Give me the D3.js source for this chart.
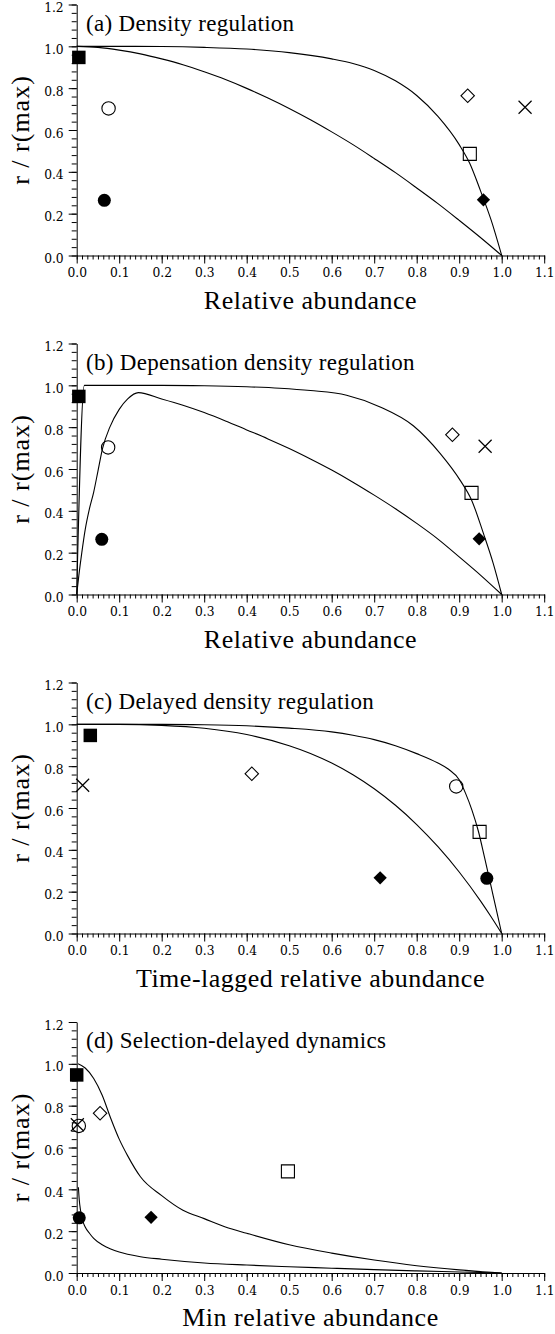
<!DOCTYPE html>
<html>
<head>
<meta charset="utf-8">
<script src="https://cdn.jsdelivr.net/npm/d3@7/dist/d3.min.js"></script>
<style>
  html, body { margin: 0; padding: 0; background: #fff; }
  svg { display: block; }
</style>
</head>
<body>
<svg id="chart" width="555" height="1334"></svg>
<script>
// ---------------- DATA ----------------
const panelTitles = ["(a) Density regulation", "(b) Depensation density regulation",
                     "(c) Delayed density regulation", "(d) Selection-delayed dynamics"];
const xAxisTitles = ["Relative abundance", "Relative abundance",
                     "Time-lagged relative abundance", "Min relative abundance"];
const yAxisTitle = "r / r(max)";
const xTicks = [0, 0.1, 0.2, 0.3, 0.4, 0.5, 0.6, 0.7, 0.8, 0.9, 1.0, 1.1];
const yTicks = [0, 0.2, 0.4, 0.6, 0.8, 1.0, 1.2];

// species markers (same r/r(max) in every panel)
const markerShapes = ["filledSquare", "openCircle", "filledCircle", "openDiamond", "openSquare", "filledDiamond", "cross"];
const rRatio = [0.947, 0.703, 0.264, 0.764, 0.486, 0.266, 0.709];
const xPanelA = [0.005, 0.075, 0.065, 0.920, 0.925, 0.957, 1.055];
const xPanelB = [0.005, 0.074, 0.059, 0.884, 0.929, 0.947, 0.961];
const xPanelC = [0.032, 0.893, 0.965, 0.412, 0.948, 0.714, 0.014];
const xPanelD = [0.000, 0.005, 0.006, 0.055, 0.497, 0.175, 0.0015];

// model curves [x, r/rmax]
const curveA1 = [[0,1],[0.1,1.0],[0.2,0.999],[0.3,0.995],[0.4,0.987],[0.5,0.97],[0.6,0.94],[0.65,0.918],[0.7,0.885],[0.75,0.835],[0.8,0.765],[0.85,0.665],[0.9,0.53],[0.925,0.44],[0.95,0.31],[0.975,0.17],[1,0]];
const curveA2 = [[0,1],[0.05,0.995],[0.1,0.982],[0.15,0.964],[0.2,0.94],[0.25,0.912],[0.3,0.878],[0.35,0.841],[0.4,0.799],[0.45,0.753],[0.5,0.703],[0.55,0.649],[0.6,0.591],[0.65,0.53],[0.7,0.464],[0.75,0.396],[0.8,0.323],[0.85,0.248],[0.9,0.168],[0.95,0.086],[1,0]];
const curveB1 = [[0,0],[0.018,1.0],[0.1,1.0],[0.2,1.0],[0.3,0.998],[0.4,0.993],[0.478,0.986],[0.55,0.975],[0.635,0.953],[0.714,0.897],[0.792,0.807],[0.855,0.675],[0.902,0.547],[0.929,0.452],[0.957,0.292],[0.98,0.149],[1,0]];
const curveB2 = [[0,0],[0.005,0.09],[0.012,0.2],[0.02,0.31],[0.03,0.41],[0.04,0.49],[0.05,0.59],[0.061,0.70],[0.078,0.80],[0.1,0.885],[0.12,0.935],[0.145,0.965],[0.2,0.935],[0.25,0.905],[0.3,0.87],[0.35,0.83],[0.4,0.787],[0.45,0.744],[0.5,0.698],[0.55,0.648],[0.6,0.595],[0.65,0.537],[0.7,0.475],[0.75,0.41],[0.8,0.34],[0.85,0.265],[0.9,0.18],[0.95,0.093],[1,0]];
const curveC1 = [[0,1],[0.2,1.0],[0.3,0.998],[0.4,0.993],[0.5,0.982],[0.6,0.964],[0.65,0.948],[0.7,0.927],[0.75,0.898],[0.8,0.86],[0.85,0.815],[0.875,0.785],[0.9,0.735],[0.915,0.67],[0.93,0.59],[0.945,0.49],[0.96,0.36],[0.98,0.18],[1,0]];
const curveC2 = [[0,1],[0.1,1.0],[0.2,0.995],[0.3,0.981],[0.4,0.951],[0.5,0.898],[0.55,0.861],[0.6,0.815],[0.65,0.759],[0.7,0.692],[0.75,0.613],[0.8,0.521],[0.85,0.415],[0.9,0.294],[0.95,0.156],[0.975,0.08],[1,0]];
const curveD1 = [[0.003,1.0],[0.02,0.98],[0.04,0.93],[0.06,0.85],[0.08,0.74],[0.1,0.64],[0.12,0.56],[0.15,0.46],[0.2,0.37],[0.25,0.30],[0.3,0.26],[0.35,0.22],[0.4,0.19],[0.5,0.135],[0.6,0.095],[0.7,0.062],[0.8,0.035],[0.9,0.015],[1.0,0.0]];
const curveD2 = [[0.004,0.41],[0.006,0.35],[0.009,0.30],[0.014,0.25],[0.02,0.22],[0.03,0.19],[0.04,0.165],[0.06,0.135],[0.08,0.115],[0.1,0.10],[0.15,0.078],[0.2,0.066],[0.3,0.048],[0.4,0.038],[0.5,0.030],[0.6,0.023],[0.7,0.016],[0.8,0.010],[0.9,0.005],[1.0,0.0]];

const panelX = [xPanelA, xPanelB, xPanelC, xPanelD];
const panelCurves = [[curveA1, curveA2], [curveB1, curveB2], [curveC1, curveC2], [curveD1, curveD2]];

// ---------------- LAYOUT ----------------
const panelBase = [255.5, 594.5, 933.5, 1273];
const plotHeight = 251;
const xLeft = 76.7, xRight = 544.2;
const svg = d3.select("#chart");

const x = d3.scaleLinear().domain([0, 1.1]).range([xLeft, xRight]);
const minorX = d3.range(0, 89).map(i => i * 0.0125);
const minorY = d3.range(0, 31).map(i => i * 0.04);

const serif = "'Liberation Serif', 'Times New Roman', serif";
const tickFont = "'DejaVu Serif', serif";

panelTitles.forEach((title, p) => {
  const base = panelBase[p];
  const y = d3.scaleLinear().domain([0, 1.2]).range([base, base - plotHeight]);
  const g = svg.append("g");

  // minor ticks
  g.append("g").attr("transform", `translate(0,${base})`)
    .call(d3.axisBottom(x).tickValues(minorX).tickSize(4).tickFormat(""))
    .call(s => s.select(".domain").remove());
  g.append("g").attr("transform", `translate(${xLeft},0)`)
    .call(d3.axisLeft(y).tickValues(minorY).tickSize(5).tickFormat(""))
    .call(s => s.select(".domain").remove());

  // major axes
  const xa = g.append("g").attr("transform", `translate(0,${base})`)
    .call(d3.axisBottom(x).tickValues(xTicks).tickSize(8).tickSizeOuter(0).tickPadding(5).tickFormat(d3.format(".1f")));
  xa.selectAll("text").attr("font-family", tickFont).attr("font-size", 12.3).attr("fill", "#000");
  const ya = g.append("g").attr("transform", `translate(${xLeft},0)`)
    .call(d3.axisLeft(y).tickValues(yTicks).tickSize(8).tickSizeOuter(0).tickPadding(5).tickFormat(d3.format(".1f")));
  ya.selectAll("text").attr("font-family", tickFont).attr("font-size", 12.3).attr("dy", "0.575em").attr("fill", "#000");
  g.selectAll(".domain, .tick line").attr("stroke", "#000").attr("stroke-width", 1);

  // curves
  const line = d3.line().x(d => x(d[0])).y(d => y(d[1])).curve(d3.curveMonotoneX);
  panelCurves[p].forEach(c => {
    g.append("path").datum(c).attr("d", line)
      .attr("fill", "none").attr("stroke", "#000").attr("stroke-width", 1.1);
  });

  // markers
  const xs = panelX[p];
  markerShapes.forEach((shape, i) => {
    const cx = x(xs[i]), cy = y(rRatio[i]);
    const m = g.append("g").attr("transform", `translate(${cx},${cy})`);
    if (shape === "filledSquare") {
      m.append("path").attr("d", d3.symbol(d3.symbolSquare, 182)()).attr("fill", "#000");
    } else if (shape === "openSquare") {
      m.append("path").attr("d", d3.symbol(d3.symbolSquare, 170)()).attr("fill", "none").attr("stroke", "#000").attr("stroke-width", 1.1);
    } else if (shape === "openCircle") {
      m.append("path").attr("d", d3.symbol(d3.symbolCircle, 140)()).attr("fill", "none").attr("stroke", "#000").attr("stroke-width", 1.1);
    } else if (shape === "filledCircle") {
      m.append("path").attr("d", d3.symbol(d3.symbolCircle, 133)()).attr("fill", "#000");
    } else if (shape === "openDiamond") {
      m.append("path").attr("d", d3.symbol(d3.symbolSquare, 90)()).attr("transform", "rotate(45)")
        .attr("fill", "none").attr("stroke", "#000").attr("stroke-width", 1.1);
    } else if (shape === "filledDiamond") {
      m.append("path").attr("d", d3.symbol(d3.symbolSquare, 88)()).attr("transform", "rotate(45)").attr("fill", "#000");
    } else if (shape === "cross") {
      const h = 6.5;
      m.append("path").attr("d", `M${-h},${-h}L${h},${h}M${-h},${h}L${h},${-h}`)
        .attr("stroke", "#000").attr("stroke-width", 1.2).attr("fill", "none");
    }
  });

  // titles
  g.append("text").attr("x", 86).attr("y", base - 225)
    .attr("font-family", serif).attr("font-size", 23).attr("letter-spacing", 0.3)
    .text(title);
  g.append("text").attr("x", (xLeft + xRight) / 2).attr("y", base + 53)
    .attr("text-anchor", "middle")
    .attr("font-family", serif).attr("font-size", 26).attr("letter-spacing", 0.5)
    .text(xAxisTitles[p]);
  g.append("text")
    .attr("transform", `translate(28.5,${base - plotHeight / 2}) rotate(-90)`)
    .attr("text-anchor", "middle")
    .attr("font-family", serif).attr("font-size", 26).attr("letter-spacing", 1)
    .text(yAxisTitle);
});
</script>
</body>
</html>
